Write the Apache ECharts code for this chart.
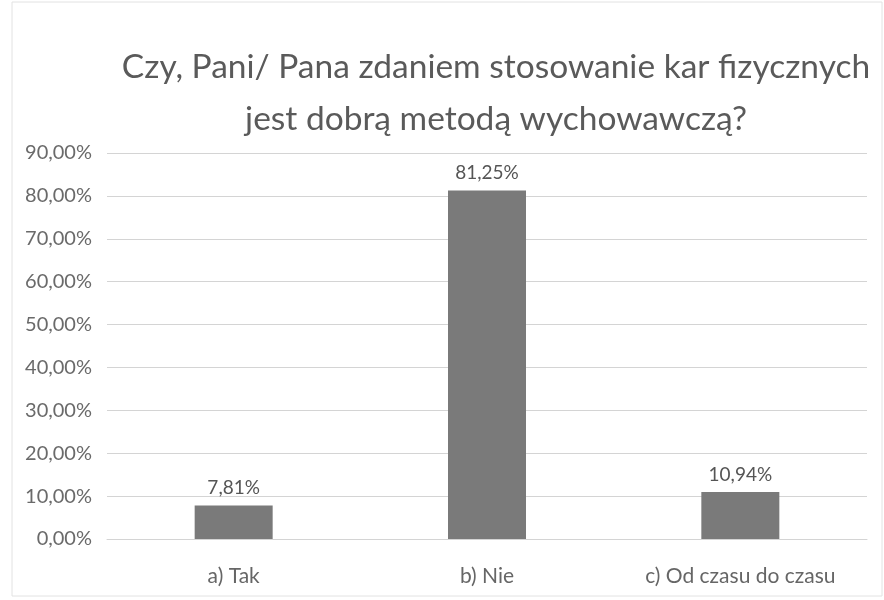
<!DOCTYPE html>
<html>
<head>
<meta charset="utf-8">
<script src="https://cdn.jsdelivr.net/npm/echarts@6/dist/echarts.min.js"></script>
<style>
  html, body { margin: 0; padding: 0; background: #fff; }
  #main { width: 884px; height: 600px; }
</style>
</head>
<body>
<div id="main"></div>
<script>
// dane z wykresu
var categories = ["a) Tak", "b) Nie", "c) Od czasu do czasu"];
var values = [7.81, 81.25, 10.94];
var yTicks = [0, 10, 20, 30, 40, 50, 60, 70, 80, 90];

function fmt(v) {
  return v.toFixed(2).replace(".", ",") + "%";
}

var chart = echarts.init(document.getElementById("main"));

var option = {
  backgroundColor: "#fff",
  title: {
    text: "Czy, Pani/ Pana zdaniem stosowanie kar fizycznych\njest dobrą metodą wychowawczą?",
    left: 491,
    top: 36,
    textAlign: "center",
    textStyle: {
      fontFamily: "Lato",
      fontWeight: "normal",
      fontSize: 33.5,
      lineHeight: 52,
      color: "#5a5a5a"
    }
  },
  grid: { left: 107, right: 17, top: 153, bottom: 61 },
  xAxis: {
    type: "category",
    data: categories,
    axisTick: { show: false },
    axisLine: { lineStyle: { color: "#d4d4d4" } },
    axisLabel: { fontFamily: "Lato", fontSize: 21, color: "#666", margin: 27 }
  },
  yAxis: {
    type: "value",
    min: yTicks[0],
    max: yTicks[yTicks.length - 1],
    interval: 10,
    axisLine: { show: false },
    axisTick: { show: false },
    splitLine: { lineStyle: { color: "#d4d4d4" } },
    axisLabel: {
      fontFamily: "Lato",
      fontSize: 20,
      color: "#6a6a6a",
      margin: 15,
      formatter: function (v) { return fmt(v); }
    }
  },
  series: [{
    type: "bar",
    data: values,
    barWidth: 78,
    itemStyle: { color: "#7a7a7a" },
    label: {
      show: true,
      position: "top",
      distance: 8,
      fontFamily: "Lato",
      fontSize: 19,
      color: "#555",
      formatter: function (p) { return fmt(p.value); }
    }
  }],
  graphic: [{
    type: "rect",
    shape: { x: 12, y: 2, width: 870, height: 594 },
    style: { fill: "none", stroke: "#e2e2e2", lineWidth: 1 },
    silent: true
  }]
};

chart.setOption(option);
</script>
</body>
</html>
